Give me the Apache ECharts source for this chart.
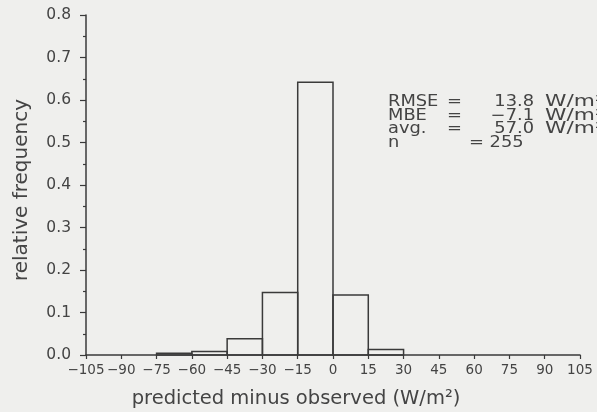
<!DOCTYPE html>
<html><head><meta charset="utf-8">
<script src="https://cdn.jsdelivr.net/npm/echarts@6/dist/echarts.min.js"></script>
<style>html,body{margin:0;padding:0;background:#efefed}#c{width:597px;height:412px}</style>
</head><body><div id="c"></div>
<script>
// ---- data ----
const binStarts = [-75, -60, -45, -30, -15, 0, 15];
const binWidth = 15;
const frequencies = [0.004, 0.008, 0.038, 0.147, 0.642, 0.141, 0.013];
const xTickValues = [-105, -90, -75, -60, -45, -30, -15, 0, 15, 30, 45, 60, 75, 90, 105];
const yTickValues = [0.0, 0.1, 0.2, 0.3, 0.4, 0.5, 0.6, 0.7, 0.8];
const statLabels = ['RMSE', 'MBE', 'avg.', 'n'];
const statValues = ['13.8', '\u22127.1', '57.0', '255'];
const statUnits = ['W/m\u00b2', 'W/m\u00b2', 'W/m\u00b2', ''];
const xTitle = 'predicted minus observed (W/m\u00b2)';
const yTitle = 'relative frequency';

const FONT = 'DejaVu Sans';
const INK = '#3a3a3a';
const TXT = '#444';

const chart = echarts.init(document.getElementById('c'));
const histData = binStarts.map((s, i) => [s, s + binWidth, frequencies[i]]);

const graphics = [];
const rowY = [102, 115.5, 129, 142.5];
const sf = '15.5px "' + FONT + '"';
const sx = 1.15;
statLabels.forEach((lab, i) => {
  graphics.push({type:'text', x:388, y:rowY[i], scaleX:sx, style:{text:lab, font:sf, fill:TXT, verticalAlign:'middle'}});
  if (i < 3) {
    graphics.push({type:'text', x:447, y:rowY[i], scaleX:sx, style:{text:'=', font:sf, fill:TXT, verticalAlign:'middle'}});
    graphics.push({type:'text', x:534, y:rowY[i], scaleX:sx, style:{text:statValues[i], font:sf, fill:TXT, align:'right', verticalAlign:'middle'}});
    graphics.push({type:'text', x:545, y:rowY[i], scaleX:1.4, style:{text:statUnits[i], font:sf, fill:TXT, align:'left', verticalAlign:'middle'}});
  } else {
    graphics.push({type:'text', x:469, y:rowY[i], scaleX:sx, style:{text:'= ' + statValues[i], font:sf, fill:TXT, verticalAlign:'middle'}});
  }
});
graphics.push({type:'text', x:296, y:399, style:{text:xTitle, font:'19.5px "'+FONT+'"', fill:TXT, align:'center', verticalAlign:'middle'}});
graphics.push({type:'text', x:22, y:190, rotation:Math.PI/2, style:{text:yTitle, font:'20px "'+FONT+'"', fill:TXT, align:'center', verticalAlign:'middle'}});

chart.setOption({
  backgroundColor: '#efefed',
  animation: false,
  grid: {left: 86, right: 17, top: 15, bottom: 57},
  xAxis: {
    type: 'value', min: xTickValues[0], max: xTickValues[xTickValues.length-1], interval: 15,
    axisLine: {show: true, onZero: false, lineStyle: {color: INK, width: 1.5}},
    axisTick: {show: true, length: 4, inside: false, lineStyle: {color: INK, width: 1.2}},
    axisLabel: {color: TXT, fontFamily: FONT, fontSize: 13.5, margin: 8, hideOverlap: false, showMinLabel: true, showMaxLabel: true,
      formatter: v => v < 0 ? '\u2212' + Math.abs(v) : String(v)},
    splitLine: {show: false}
  },
  yAxis: {
    type: 'value', min: yTickValues[0], max: yTickValues[yTickValues.length-1], interval: 0.1,
    axisLine: {show: true, onZero: false, lineStyle: {color: INK, width: 1.5}},
    axisTick: {show: true, length: 6, lineStyle: {color: INK, width: 1.2}},
    minorTick: {show: true, splitNumber: 2, length: 3, lineStyle: {color: INK, width: 1.2}},
    axisLabel: {color: TXT, fontFamily: FONT, fontSize: 15.5, margin: 15, formatter: v => v.toFixed(1)},
    splitLine: {show: false}
  },
  graphic: graphics,
  series: [{
    type: 'custom',
    data: histData,
    encode: {x: [0, 1], y: 2},
    renderItem: function (params, api) {
      const p0 = api.coord([api.value(0), 0]);
      const p1 = api.coord([api.value(1), api.value(2)]);
      return {type: 'rect',
        shape: {x: p0[0], y: p1[1], width: p1[0] - p0[0], height: p0[1] - p1[1]},
        style: {fill: 'none', stroke: INK, lineWidth: 1.5}};
    }
  }]
});
</script></body></html>
